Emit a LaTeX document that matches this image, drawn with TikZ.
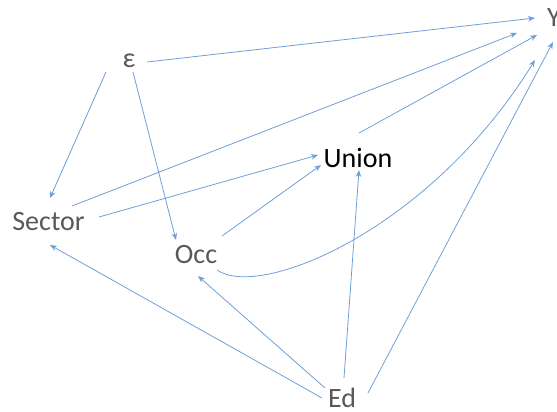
\documentclass[tikz,border=0pt]{standalone}
\usepackage{fontspec}
\setmainfont{Carlito}
\usetikzlibrary{arrows.meta,calc}
\definecolor{edgeblue}{HTML}{6E9FD8}
\definecolor{labelgray}{HTML}{595959}
\begin{document}
\begin{tikzpicture}[x=1pt,y=-1pt,
  var/.style={anchor=base,inner sep=0pt,text=labelgray,font=\fontsize{28}{32}\selectfont},
  link/.style={draw=edgeblue,line width=0.8pt,-{Stealth[length=7pt,width=5.5pt]}}]
\useasboundingbox (0,0) rectangle (557,412);
% variables (placed at their baselines)
\node[var] (Y) at (554,27) {Y};
\node[var] (eps) at (129,68) {ε};
\node[var] (sec) at (48.5,230) {Sector};
\node[var,text=black] (uni) at (358,167) {Union};
\node[var] (occ) at (196,263) {Occ};
\node[var] (ed) at (342,407) {Ed};
% causal links
\draw[link] ($(eps.base)+(18,-6)$) -- ($(Y.base)+(-19,-9)$);
\draw[link] ($(eps.base)+(-23,4)$) -- ($(sec.base)+(1.5,-32)$);
\draw[link] ($(eps.base)+(4,4)$) -- ($(occ.base)+(-20,-23)$);
\draw[link] ($(sec.base)+(23.5,-24)$) -- ($(Y.base)+(-37,6)$);
\draw[link] ($(sec.base)+(50.5,-13)$) -- ($(uni.base)+(-40,-12)$);
\draw[link] ($(uni.base)+(1,-34)$) -- ($(Y.base)+(-17,8)$);
\draw[link] ($(occ.base)+(26,-27)$) -- ($(uni.base)+(-37,-2)$);
\draw[link] ($(occ.base)+(21,7)$) .. controls (260,300) and (430,230) .. ($(Y.base)+(-19,33)$);
\draw[link] ($(ed.base)+(26,-14)$) -- ($(Y.base)+(-1,15)$);
\draw[link] ($(ed.base)+(2,-29)$) -- ($(uni.base)+(1,3)$);
\draw[link] ($(ed.base)+(-17,-19)$) -- ($(occ.base)+(2,13)$);
\draw[link] ($(ed.base)+(-20,-9)$) -- ($(sec.base)+(1.5,15)$);
\end{tikzpicture}
\end{document}
